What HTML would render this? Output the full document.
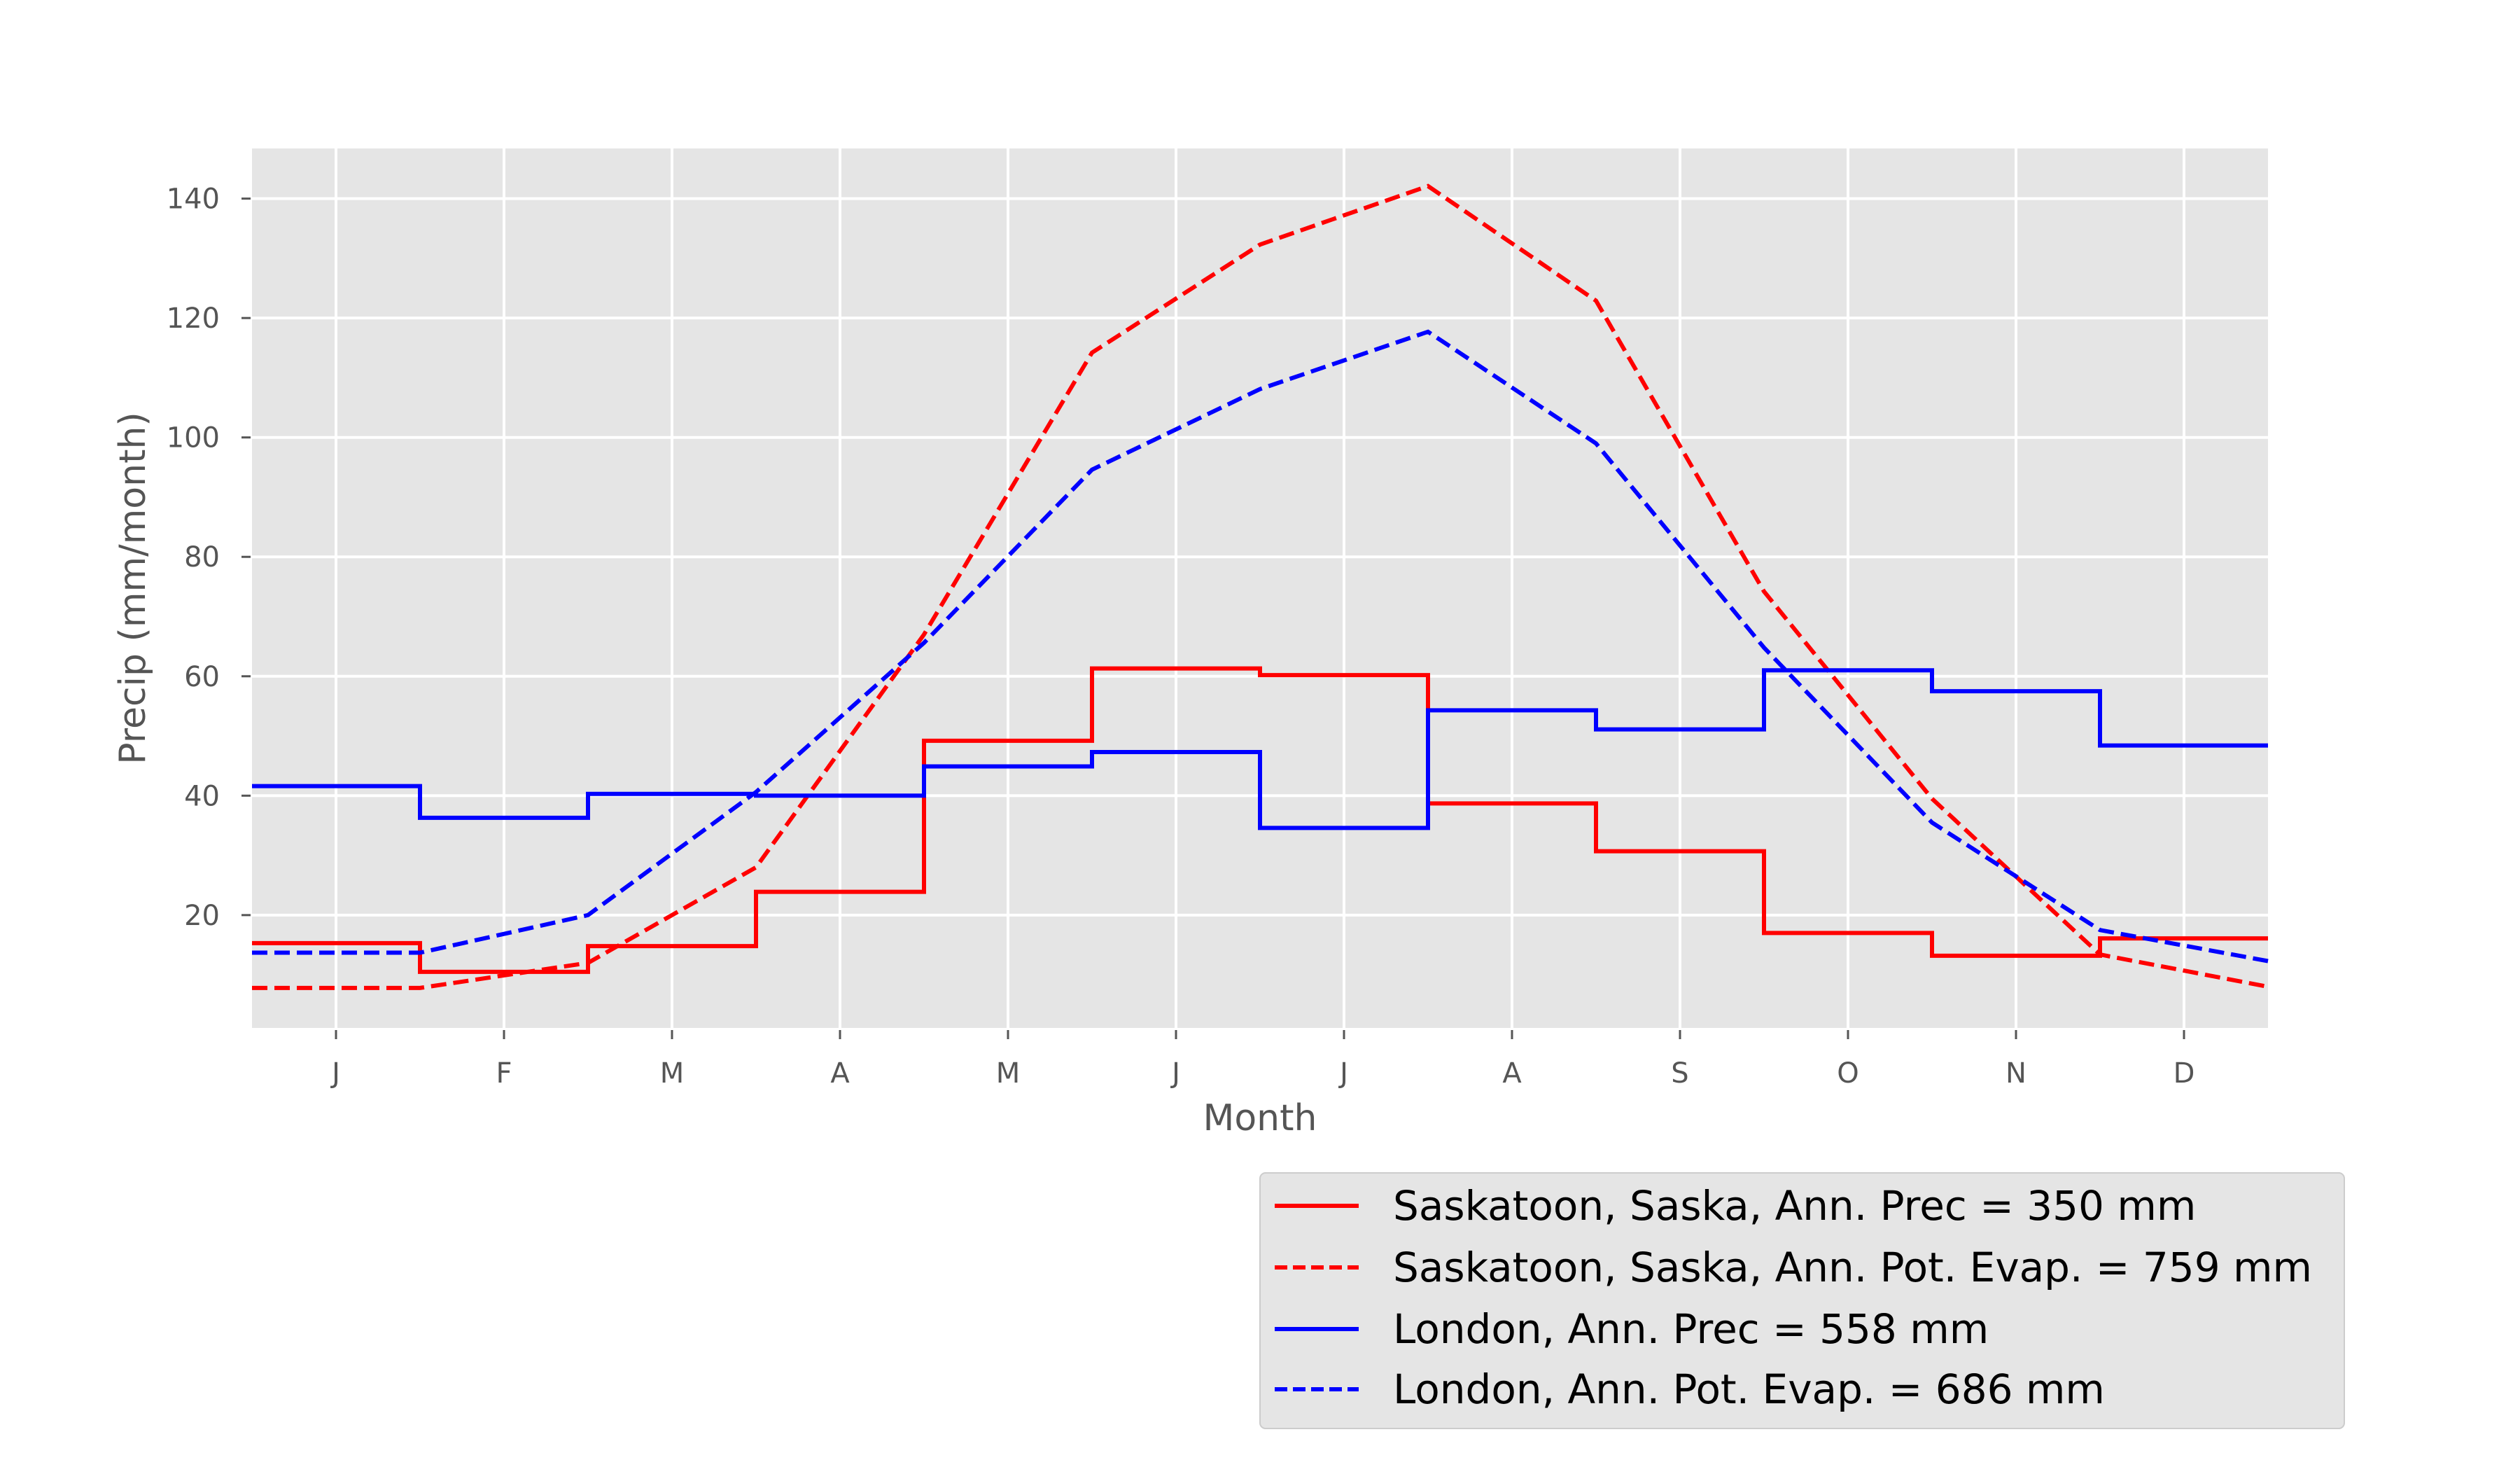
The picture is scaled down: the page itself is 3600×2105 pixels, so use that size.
<!DOCTYPE html>
<html><head><meta charset="utf-8"><style>
html,body{margin:0;padding:0;background:#fff;}
svg text{font-family:"DejaVu Sans","Liberation Sans",sans-serif;}
</style></head><body>
<svg id="chart" width="3600" height="2100" viewBox="0 0 3600 2100" xmlns="http://www.w3.org/2000/svg">
<rect x="0" y="0" width="3600" height="2100" fill="#fff"/>
<rect x="360" y="212" width="2880" height="1256" fill="#e5e5e5"/>
<g id="grid"></g>
<g id="ticks"></g>
<g id="series"></g>
<text x="207" y="840" font-size="52" fill="#555" text-anchor="middle" transform="rotate(-90 207 840)">Precip (mm/month)</text>
<text x="1800" y="1614" font-size="52" fill="#555" text-anchor="middle">Month</text>
<g transform="translate(-19,-18)">
<rect x="1819" y="1693" width="1549" height="365" rx="8" fill="#e5e5e5" stroke="#cccccc" stroke-width="2"/>
<g>
<line x1="1840" y1="1740" x2="1960" y2="1740" stroke="#ff0000" stroke-width="6"/>
<text x="2009" y="1760" font-size="58" fill="#000">Saskatoon, Saska, Ann. Prec = 350 mm</text></g>
<g>
<line x1="1840" y1="1828" x2="1960" y2="1828" stroke="#ff0000" stroke-width="6" stroke-dasharray="18 8"/>
<text x="2009" y="1848" font-size="58" fill="#000">Saskatoon, Saska, Ann. Pot. Evap. = 759 mm</text></g>
<g>
<line x1="1840" y1="1916" x2="1960" y2="1916" stroke="#0000ff" stroke-width="6"/>
<text x="2009" y="1936" font-size="58" fill="#000">London, Ann. Prec = 558 mm</text></g>
<g>
<line x1="1840" y1="2002" x2="1960" y2="2002" stroke="#0000ff" stroke-width="6" stroke-dasharray="18 8"/>
<text x="2009" y="2022" font-size="58" fill="#000">London, Ann. Pot. Evap. = 686 mm</text></g>
</g>
</svg>
<script>
const months = ["J","F","M","A","M","J","J","A","S","O","N","D"];
const yTicks = [20,40,60,80,100,120,140];
const sasPrec = [15.3,10.5,14.8,23.9,49.2,61.3,60.2,38.7,30.7,17.0,13.2,16.1];
const lonPrec = [41.6,36.3,40.3,40.0,44.9,47.3,34.6,54.3,51.1,61.0,57.5,48.4];
const sasEvap = [7.8,12.0,28.0,67.0,114.2,132.3,142.1,122.9,74.2,39.5,13.4,8.0];
const lonEvap = [13.7,20.0,40.6,65.6,94.6,108.1,117.7,99.0,64.8,35.5,17.5,12.3];

const NS = "http://www.w3.org/2000/svg";
const L = 360, R = 3240, T = 212, B = 1468;
const xMin = -0.5, xMax = 11.5, yMin = 1.1, yMax = 148.4;
function xs(v){ return L + (v - xMin) / (xMax - xMin) * (R - L); }
function ys(v){ return B - (v - yMin) / (yMax - yMin) * (B - T); }
function mk(tag, attrs, parent){
  const e = document.createElementNS(NS, tag);
  for (const k in attrs) e.setAttribute(k, attrs[k]);
  parent.appendChild(e); return e;
}
const grid = document.getElementById('grid');
const ticks = document.getElementById('ticks');
const series = document.getElementById('series');

yTicks.forEach(v => {
  const y = ys(v);
  const g = mk('line', {x1:L, x2:R, y1:y, y2:y, stroke:'#fff', 'stroke-width':4}, grid);
  
  
  const t = mk('line', {x1:345, x2:358, y1:y, y2:y, stroke:'#555', 'stroke-width':3}, ticks);
  
  
  const lb = mk('text', {x:314, y:y+14, 'font-size':40, fill:'#555', 'text-anchor':'end'}, ticks);
  lb.textContent = v;
  
  
});
months.forEach((m, i) => {
  const x = xs(i);
  const g = mk('line', {x1:x, x2:x, y1:T, y2:B, stroke:'#fff', 'stroke-width':4}, grid);
  
  
  const t = mk('line', {x1:x, x2:x, y1:1471, y2:1484, stroke:'#555', 'stroke-width':3}, ticks);
  
  
  const lb = mk('text', {x:x, y:1546, 'font-size':40, fill:'#555', 'text-anchor':'middle'}, ticks);
  lb.textContent = m;
  
  
});

function stepPath(vals){
  let d = '';
  vals.forEach((v, i) => {
    const y = ys(v);
    d += (i === 0 ? 'M' : 'L') + xs(i - 0.5) + ' ' + y + ' L' + xs(i + 0.5) + ' ' + y + ' ';
  });
  return d;
}
function evapPath(vals){
  let d = 'M' + xs(-0.5) + ' ' + ys(vals[0]) + ' ';
  vals.forEach((v, i) => { d += 'L' + xs(i + 0.5) + ' ' + ys(v) + ' '; });
  return d;
}
const s1 = mk('path', {d:stepPath(sasPrec), fill:'none', stroke:'#ff0000', 'stroke-width':6}, series);


const s2 = mk('path', {d:evapPath(sasEvap), fill:'none', stroke:'#ff0000', 'stroke-width':6, 'stroke-dasharray':'22 10'}, series);


const s3 = mk('path', {d:stepPath(lonPrec), fill:'none', stroke:'#0000ff', 'stroke-width':6}, series);


const s4 = mk('path', {d:evapPath(lonEvap), fill:'none', stroke:'#0000ff', 'stroke-width':6, 'stroke-dasharray':'22 10'}, series);


</script>
</body></html>
